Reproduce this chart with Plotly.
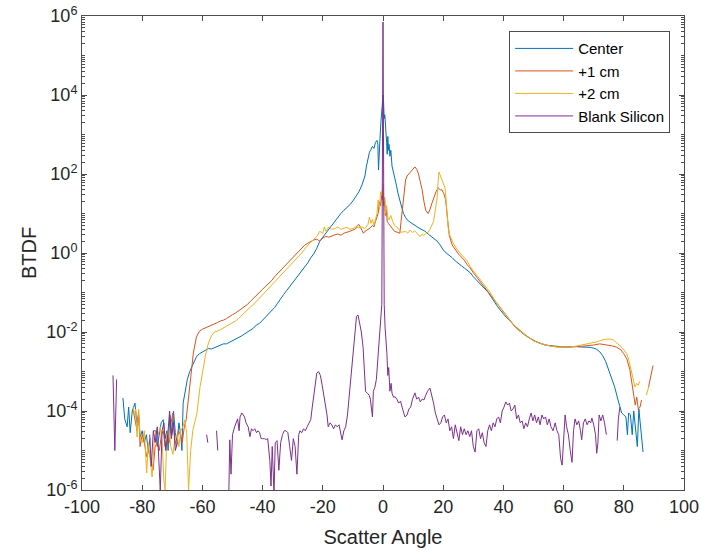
import plotly.graph_objects as go

# ---------------- data (BTDF given as log10 values) ----------------
center_angle = [-86.4, -85.8, -85.0, -84.5, -84.0, -83.3, -82.4, -81.8, -81.2, -80.7, -80.0, -79.3, -78.6, -78.0,
                -77.4, -76.8, -76.2, -75.6, -75.0, -74.3, -73.7, -73.0, -72.4, -71.8, -71.4, -70.8, -70.2, -69.6,
                -69.0, -68.4, -67.8, -67.2, -66.8, -66.4, -65.7, -65.0, -64.2, -63.5, -62.8, -62.0, -61.0, -60.0,
                -59.0, -58.0, -57.0, -56.0, -55.0, -54.0, -53.0, -52.0, -51.0, -50.0, -49.0, -48.0, -47.0, -46.0,
                -45.0, -44.0, -43.0, -42.0, -41.0, -40.0, -39.0, -38.0, -37.0, -36.0, -35.0, -34.0, -33.0, -32.0,
                -31.0, -30.0, -29.0, -28.0, -27.0, -26.0, -25.0, -24.0, -23.0, -22.0, -21.0, -20.0, -19.0, -18.0,
                -17.0, -16.0, -15.0, -14.0, -13.0, -12.0, -11.0, -10.0, -9.0, -8.0, -7.0, -6.0, -5.5, -5.0, -4.5,
                -4.0, -3.5, -3.0, -2.5, -2.0, -1.7, -1.5, -1.3, -1.0, -0.7, -0.4, -0.2, 0.0, 0.2, 0.4, 0.6, 0.8,
                1.0, 1.2, 1.4, 1.6, 1.8, 2.0, 2.3, 2.6, 3.0, 3.5, 4.0, 4.5, 5.0, 5.6, 6.2, 6.8, 7.5, 8.0, 9.0,
                10.0, 11.0, 12.0, 13.0, 14.0, 15.0, 16.0, 17.0, 18.0, 19.0, 20.0, 21.0, 22.0, 23.0, 24.0, 25.0,
                26.0, 27.0, 28.0, 29.0, 30.0, 31.0, 32.0, 33.0, 34.0, 35.0, 36.0, 37.0, 38.0, 39.0, 40.0, 41.0,
                42.0, 43.0, 44.0, 45.0, 46.0, 47.0, 48.0, 49.0, 50.0, 51.0, 52.0, 53.0, 54.0, 55.0, 56.0, 57.0,
                58.0, 59.0, 60.0, 62.0, 64.0, 66.0, 68.0, 69.0, 70.0, 71.0, 72.0, 73.0, 74.0, 75.0, 76.0, 77.0,
                78.0, 78.7, 79.3, 80.0, 80.7, 81.2, 81.6, 82.2, 82.8, 83.3, 84.0, 84.5, 85.0, 85.5, 86.0, 86.4]
center_log10 = [-3.67, -4.2, -4.4, -3.9, -4.55, -4.0, -3.8, -4.3, -4.1, -4.66, -4.5, -4.8, -4.6, -5.0,
                -4.7, None, -4.5, -4.5, -4.9, -4.6, -4.3, -4.22, -4.7, -4.5, -5.0, -4.1, -4.6, -4.0,
                -4.55, -4.8, -4.3, -4.6, -5.0, -3.8, -3.45, -3.2, -3.0, -2.88, -2.75, -2.63, -2.55, -2.5,
                -2.46, -2.42, -2.43, -2.4, -2.36, -2.35, -2.3, -2.3, -2.26, -2.22, -2.2, -2.14, -2.1, -2.05,
                -2.0, -1.95, -1.9, -1.82, -1.78, -1.7, -1.62, -1.55, -1.45, -1.38, -1.27, -1.15, -1.05, -0.95,
                -0.85, -0.75, -0.65, -0.55, -0.45, -0.35, -0.25, -0.12, -0.02, 0.12, 0.3, 0.4, 0.5, 0.62,
                0.72, 0.82, 0.92, 1.0, 1.08, 1.15, 1.22, 1.32, 1.42, 1.55, 1.72, 1.95, 2.2, 2.4, 2.55,
                2.62, 2.7, 2.65, 2.8, 2.85, 2.75, 2.1, 2.6, 2.9, 3.3, 3.55, 3.75, 4.0, 3.8, 3.4, 3.5, 3.1,
                3.2, 2.8, 2.5, 2.95, 2.6, 2.75, 2.45, 2.6, 2.2, 2.05, 1.9, 1.7, 1.5, 1.34, 1.15, 1.0, 0.9, 0.84, 0.78,
                0.72, 0.68, 0.63, 0.6, 0.55, 0.48, 0.42, 0.38, 0.3, 0.2, 0.08, 0.0, -0.05, -0.12, -0.2, -0.25,
                -0.32, -0.38, -0.45, -0.5, -0.6, -0.68, -0.75, -0.82, -0.92, -1.0, -1.12, -1.25, -1.35, -1.45, -1.55, -1.63,
                -1.7, -1.8, -1.88, -1.95, -2.02, -2.07, -2.12, -2.17, -2.22, -2.25, -2.28, -2.31, -2.33, -2.34, -2.35, -2.36,
                -2.37, -2.37, -2.38, -2.38, -2.37, -2.38, -2.38, -2.39, -2.41, -2.44, -2.5, -2.6, -2.75, -2.95, -3.15, -3.4,
                -3.7, -3.9, -4.05, -4.1, -4.15, -4.6, -4.05, -4.1, -4.6, -4.0, -4.45, -4.9, -3.95, -4.3, -4.6, -5.04]

plus1_angle = [-83.0, -82.4, -81.7, -81.2, -80.7, -80.0, -79.3, -78.5, -77.8, -77.0, -76.4, -75.7, -75.0, -74.3,
               -73.6, -73.0, -72.4, -71.6, -71.0, -70.4, -69.8, -69.2, -68.6, -68.0, -67.3, -66.7, -66.0, -65.4,
               -64.8, -64.0, -63.0, -62.0, -61.0, -60.0, -59.0, -58.0, -57.0, -56.0, -55.0, -54.0, -53.0, -52.0,
               -51.0, -50.0, -49.0, -48.0, -47.0, -46.0, -45.0, -44.0, -43.0, -42.0, -41.0, -40.0, -39.0, -38.0,
               -37.0, -36.0, -35.0, -34.0, -33.0, -32.0, -31.0, -30.0, -29.0, -28.0, -27.0, -26.0, -25.0, -24.0,
               -23.0, -22.0, -21.0, -20.0, -19.0, -18.0, -17.0, -16.0, -15.0, -14.0, -13.0, -12.0, -11.0, -10.0,
               -9.0, -8.5, -8.0, -7.5, -7.0, -6.5, -6.0, -5.0, -4.3, -3.5, -3.0, -2.5, -2.0, -1.6, -1.2, -0.8,
               -0.5, -0.2, 0.0, 0.2, 0.5, 0.8, 1.1, 1.4, 1.8, 2.3, 3.0, 3.8, 4.6, 5.2, 5.6, 6.0, 6.5, 7.0, 7.5,
               8.0, 9.0, 10.0, 10.6, 11.2, 11.8, 12.4, 13.0, 13.6, 14.2, 15.0, 15.6, 16.3, 17.0, 17.6, 18.3, 19.0,
               19.6, 20.2, 20.8, 21.4, 22.0, 23.0, 24.0, 25.0, 26.0, 27.0, 28.0, 29.0, 30.0, 31.0, 32.0, 33.0,
               34.0, 35.0, 36.0, 37.0, 38.0, 39.0, 40.0, 41.0, 42.0, 43.0, 44.0, 45.0, 46.0, 47.0, 48.0, 49.0,
               50.0, 52.0, 54.0, 56.0, 58.0, 60.0, 62.0, 64.0, 66.0, 68.0, 70.0, 72.0, 74.0, 76.0, 77.5, 79.0,
               80.0, 81.0, 82.0, 82.7, 83.3, 83.8, 84.3, 84.8, 85.4, 85.9, 87.0, 88.2, 88.7, 89.2, 89.7]
plus1_log10 = [-3.97, -4.2, -4.5, -4.0, -4.9, -4.6, -4.8, -5.16, -5.0, -5.3, -5.5, -4.9, -4.8, -5.0,
               -4.6, -4.5, -4.9, -4.6, -4.8, -4.3, -4.05, -4.7, -4.9, -4.5, -4.6, -4.8, -4.4, -4.22,
               -3.8, -3.2, -2.53, -2.13, -1.98, -1.93, -1.9, -1.87, -1.84, -1.8, -1.76, -1.72, -1.7, -1.66,
               -1.6, -1.56, -1.52, -1.47, -1.42, -1.36, -1.3, -1.22, -1.15, -1.08, -1.0, -0.92, -0.84, -0.78,
               -0.7, -0.6, -0.52, -0.45, -0.36, -0.28, -0.2, -0.12, -0.05, 0.05, 0.12, 0.2, 0.25, 0.3,
               0.33, 0.35, 0.3, 0.38, 0.42, 0.4, 0.44, 0.46, 0.48, 0.45, 0.5, 0.52, 0.55, 0.58,
               0.62, 0.7, 0.72, 0.65, 0.55, 0.5, 0.55, 0.6, 0.63, 0.7, 0.66, 0.8, 0.9, 1.0, 1.3, 1.2,
               1.45, 1.35, 1.6, 1.2, 1.4, 0.95, 1.1, 0.8, 0.75, 0.7, 0.6, 0.55, 0.53, 0.5, 0.5, 0.8, 1.2, 1.6, 1.85,
               1.95, 2.05, 2.15, 2.18, 2.12, 2.0, 1.8, 1.6, 1.3, 1.08, 1.0, 1.1, 1.27, 1.45, 1.55, 1.65, 1.6,
               1.6, 1.5, 1.35, 0.8, 0.45, 0.2, 0.08, -0.02, -0.1, -0.18, -0.3, -0.38, -0.5, -0.6, -0.7, -0.8,
               -0.88, -0.98, -1.08, -1.2, -1.3, -1.4, -1.5, -1.6, -1.7, -1.78, -1.86, -1.93, -2.0, -2.06, -2.12, -2.17,
               -2.22, -2.28, -2.33, -2.36, -2.38, -2.38, -2.38, -2.37, -2.36, -2.35, -2.33, -2.3, -2.32, -2.35, -2.38, -2.45,
               -2.55, -2.68, -2.95, -3.3, -3.6, -3.85, -3.65, -3.95, -3.9, -3.72, None, -3.4, -3.2, -3.05, -2.85]

plus2_angle = [-83.0, -82.6, -82.2, -81.7, -81.2, -80.7, -80.0, -79.3, -78.5, -78.0, -77.4, -76.7, -76.0, -75.4,
               -74.7, -74.0, -73.3, -72.8, -72.4, -71.8, -71.2, -70.5, -69.8, -69.1, -68.4, -67.8, -67.2, -66.5,
               -65.8, -65.2, -64.6, -63.9, -63.2, -62.4, -61.8, -60.8, -59.8, -59.0, -58.0, -57.0, -56.0, -55.0,
               -54.0, -53.0, -52.0, -51.0, -50.0, -49.0, -48.0, -47.0, -46.0, -45.0, -44.0, -43.0, -42.0, -41.0,
               -40.0, -39.0, -38.0, -37.0, -36.0, -35.0, -34.0, -33.0, -32.0, -31.0, -30.0, -29.0, -28.0, -27.0,
               -26.0, -25.0, -24.0, -23.0, -22.0, -21.0, -20.0, -19.5, -19.0, -18.0, -17.0, -16.0, -15.0, -14.0,
               -13.0, -12.0, -11.0, -10.0, -9.0, -8.0, -7.0, -6.0, -5.0, -4.5, -4.0, -3.5, -3.0, -2.5, -2.0,
               -1.6, -1.2, -0.8, -0.4, 0.0, 0.3, 0.6, 0.9, 1.2, 1.6, 2.0, 2.6, 3.2, 3.8, 4.6, 5.4, 6.0, 6.6,
               7.5, 8.2, 9.0, 9.8, 10.5, 11.3, 12.0, 12.3, 13.0, 13.6, 14.3, 15.0, 15.6, 16.3, 16.8, 17.4, 18.0,
               18.3, 18.6, 19.1, 19.6, 20.2, 20.6, 21.0, 21.6, 22.2, 23.3, 24.5, 25.5, 26.5, 28.0, 29.0, 30.0,
               31.0, 32.0, 33.0, 34.0, 35.5, 37.0, 38.0, 39.0, 40.0, 41.0, 42.0, 43.0, 44.0, 45.0, 46.5, 48.0,
               50.0, 52.0, 54.0, 56.0, 58.0, 60.0, 62.0, 64.0, 66.0, 68.0, 70.0, 71.0, 72.0, 73.0, 74.0, 75.5,
               76.5, 77.7, 78.5, 79.5, 80.3, 81.0, 81.8, 82.7, 83.2, 83.7, 84.3, 84.8, 85.3, 86.5, 87.5, 88.0, 88.4]
plus2_log10 = [-3.9, -4.1, -3.95, -4.66, -3.95, -4.66, -4.8, -4.5, -5.57, -4.8, -5.2, -5.67, -4.7, -4.5,
               -4.6, -4.4, -4.9, -5.75, -6.0, -4.6, -4.45, -4.9, -5.1, -4.7, -4.6, -4.9, -4.5, -4.4,
               -4.22, -4.6, -6.0, -5.0, -4.5, -4.2, -4.05, -3.4, -2.96, -2.6, -2.28, -2.1, -2.0, -1.98,
               -1.94, -1.9, -1.86, -1.82, -1.78, -1.72, -1.66, -1.58, -1.5, -1.42, -1.36, -1.3, -1.22, -1.14,
               -1.06, -0.98, -0.9, -0.82, -0.74, -0.66, -0.58, -0.5, -0.42, -0.34, -0.26, -0.18, -0.1, 0.0,
               0.1, 0.2, 0.28, 0.34, 0.42, 0.55, 0.5, 0.66, 0.55, 0.66, 0.6, 0.62, 0.66, 0.6,
               0.62, 0.65, 0.6, 0.62, 0.66, 0.64, 0.66, 0.62, 0.72, 0.91, 0.75, 0.85, 0.7, 0.9, 1.0,
               1.34, 1.1, 1.55, 1.45, 1.75, 1.3, 1.4, 1.0, 1.2, 0.9, 0.84, 0.95, 0.8, 0.7, 0.66, 0.6, 0.53, 0.53,
               0.55, 0.5, 0.58, 0.52, 0.56, 0.5, 0.45, 0.41, 0.48, 0.44, 0.5, 0.52, 0.6, 0.7, 0.8, 1.1, 1.4,
               1.8, 2.05, 1.95, 1.85, 1.75, 1.65, 1.3, 0.66, 0.45, 0.25, 0.1, 0.0, -0.08, -0.2, -0.35, -0.45,
               -0.55, -0.65, -0.75, -0.85, -0.99, -1.18, -1.3, -1.4, -1.5, -1.6, -1.7, -1.8, -1.88, -1.95, -2.03, -2.12,
               -2.22, -2.28, -2.33, -2.36, -2.38, -2.38, -2.38, -2.36, -2.33, -2.3, -2.26, -2.25, -2.22, -2.2, -2.18, -2.18,
               -2.2, -2.28, -2.33, -2.4, -2.48, -2.55, -2.75, -3.04, -3.25, -3.39, -3.3, -3.35, -3.25, None, -3.6, -3.47, -3.35]

blank_angle = [-89.7, -89.1, -88.5, -83.0, -77.5, -77.0, -76.3, -75.7, -75.0, -74.5, -74.0, -73.4, -72.8, -72.2,
               -71.5, -70.9, -70.3, -69.6, -69.0, -68.3, -63.0, -58.6, -58.2, -57.0, -55.3, -54.9, -53.0, -51.2,
               -50.9, -50.5, -50.0, -49.3, -48.8, -48.3, -47.8, -47.5, -46.9, -46.5, -46.0, -45.5, -44.8, -44.2,
               -43.7, -43.2, -42.6, -42.0, -41.5, -41.0, -40.5, -40.0, -39.4, -38.8, -38.3, -37.6, -37.2, -36.8,
               -36.2, -35.8, -35.2, -34.6, -34.0, -33.4, -32.8, -32.2, -31.6, -31.0, -30.4, -29.8, -29.2, -28.6,
               -28.0, -27.6, -27.0, -26.4, -25.8, -25.2, -24.6, -24.0, -23.5, -23.0, -22.5, -22.0, -21.4, -20.8,
               -20.2, -19.6, -19.0, -18.6, -18.2, -17.6, -17.0, -16.4, -15.8, -15.2, -14.6, -14.0, -13.6, -13.0,
               -12.4, -11.8, -11.2, -10.6, -10.0, -9.4, -8.8, -8.3, -7.8, -7.2, -6.6, -6.2, -5.8, -5.2, -4.6,
               -4.2, -3.8, -3.5, -3.2, -2.7, -2.2, -1.7, -1.2, -0.8, -0.4, 0.0, 0.4, 0.7, 1.0, 1.3, 1.6, 1.9,
               2.3, 2.7, 3.0, 3.5, 4.0, 4.6, 5.2, 5.8, 6.6, 7.3, 8.0, 8.6, 9.2, 9.8, 10.6, 11.2, 11.8, 12.4,
               13.0, 13.6, 14.2, 14.8, 15.6, 16.2, 16.8, 17.4, 18.0, 18.6, 19.2, 19.8, 20.4, 21.0, 21.6, 22.2,
               22.8, 23.4, 24.0, 24.6, 25.2, 25.8, 26.4, 27.0, 27.6, 28.2, 28.8, 29.4, 30.0, 30.6, 31.2, 31.8,
               32.4, 33.0, 33.6, 34.2, 34.8, 35.4, 36.0, 36.6, 37.2, 37.8, 38.4, 39.0, 39.6, 40.2, 40.8, 41.4,
               42.0, 42.6, 43.2, 43.8, 44.4, 45.0, 45.6, 46.2, 46.8, 47.4, 48.0, 48.6, 49.2, 49.8, 50.4, 51.0,
               51.6, 52.2, 52.8, 53.4, 54.0, 54.6, 55.2, 55.8, 56.5, 57.2, 57.8, 58.4, 59.0, 59.5, 60.0, 60.5,
               61.0, 61.6, 62.2, 62.8, 63.3, 63.8, 64.4, 65.0, 65.6, 66.0, 66.6, 67.2, 67.8, 68.4, 69.0, 69.4,
               70.0, 70.6, 71.0, 71.4, 71.8, 72.4, 73.0, 73.6, 74.2, 76.0, 77.8, 78.2, 78.7]
blank_log10 = [-3.1, -5.0, -3.2, None, -4.6, -5.4, -4.5, -4.8, -4.4, -5.3, -6.0, -4.5, -4.3, -5.0,
               -4.6, -4.0, -4.7, -4.3, -5.0, -4.8, None, -4.6, -4.8, None, -4.5, -5.0, None, -6.0,
               -4.73, -5.6, -4.6, -4.4, -4.3, -4.2, -4.5, -4.15, -4.05, -4.1, -4.15, -4.3, -4.4, -4.65,
               -4.45, -4.5, -4.45, -4.55, -4.5, -4.55, -4.7, -4.7, -4.7, -4.72, -4.7, -5.25, -5.9, -4.9,
               -6.1, -4.8, -4.75, -5.5, -4.8, -4.6, -4.5, -4.5, -4.55, -4.9, -5.25, -4.7, -4.9, -5.6,
               -4.6, -4.5, -4.55, -4.45, -4.5, -4.4, -4.3, -4.22, -3.9, -3.6, -3.25, -3.04, -3.0, -3.1,
               -3.35, -3.6, -3.85, -4.1, -4.4, -4.3, -4.35, -4.45, -4.35, -4.4, -4.35, -4.6, -4.73, -4.5,
               -4.4, -4.1, -3.6, -3.0, -2.5, -1.9, -1.6, -1.57, -1.75, -2.0, -2.4, -3.0, -3.5, -3.55, -3.6,
               -3.7, -3.9, -4.15, -3.5, -3.4, -3.2, -2.7, -2.1, -1.9, -1.3, 5.85, -1.3, -1.9, -2.2, -2.55, -3.1, -2.9,
               -3.5, -3.3, -3.55, -3.65, -3.64, -3.7, -3.8, -3.75, -3.97, -4.15, -4.1, -3.95, -3.9, -3.7, -3.54, -3.7, -3.65, -3.77,
               -3.7, -3.72, -3.6, -3.5, -3.42, -3.6, -3.8, -4.05, -4.2, -4.35, -4.3, -4.15, -4.1, -4.3, -4.2, -4.5,
               -4.4, -4.7, -4.35, -4.55, -4.75, -4.4, -4.6, -4.45, -4.6, -4.5, -4.65, -4.5, -4.9, -5.04, -4.5, -4.45,
               -4.7, -4.55, -4.8, -4.9, -4.5, -4.35, -4.5, -4.3, -4.4, -4.2, -4.15, -4.3, -4.0, -3.9, -3.77, -3.85,
               -3.8, -4.0, -3.95, -3.85, -4.2, -4.1, -4.3, -4.25, -4.45, -4.3, -4.4, -4.2, -4.05, -4.25, -4.1, -4.3,
               -4.15, -4.35, -4.1, -4.2, -4.15, -4.35, -4.2, -4.4, -4.5, -4.3, -4.5, -4.6, -5.2, -5.37, -4.6, -4.1,
               -4.4, -4.6, -5.0, -5.3, -4.5, -4.2, -4.35, -4.25, -4.5, -4.73, -4.3, -4.2, -4.35, -4.25, -4.3, -4.18,
               -4.35, -4.6, -5.07, -4.8, -4.1, -4.25, -4.1, -4.3, -4.6, None, -4.75, -4.2, -3.9]

series_names = ["Center", "+1 cm", "+2 cm", "Blank Silicon"]
series_colors = ["#0072BD", "#D95319", "#EDB120", "#7E2F8E"]

x_tick_values = [-100, -80, -60, -40, -20, 0, 20, 40, 60, 80, 100]
x_tick_labels = ["-100", "-80", "-60", "-40", "-20", "0", "20", "40", "60", "80", "100"]
y_tick_exponents = [-6, -4, -2, 0, 2, 4, 6]


def to_btdf(log_values):
    return [None if v is None else 10 ** v for v in log_values]


fig = go.Figure()
all_series = [
    (center_angle, center_log10),
    (plus1_angle, plus1_log10),
    (plus2_angle, plus2_log10),
    (blank_angle, blank_log10),
]
for (ang, lv), name, color in zip(all_series, series_names, series_colors):
    fig.add_trace(go.Scatter(x=ang, y=to_btdf(lv), mode="lines", name=name,
                             line=dict(color=color, width=1), connectgaps=False))

axis_color = "#4d4d4d"
text_color = "#262626"
font_family = "Liberation Sans, Arial, Helvetica, sans-serif"

minor_vals = [m * 10.0 ** e for e in range(-6, 6) for m in range(2, 10)] + [10.0 ** e for e in range(-5, 6, 2)]

fig.update_layout(
    width=701, height=550,
    margin=dict(l=82, r=17, t=16, b=60),
    paper_bgcolor="white", plot_bgcolor="white",
    font=dict(family=font_family, color=text_color, size=18),
    showlegend=True,
    legend=dict(x=0.977, y=0.968, xanchor="right", yanchor="top",
                bgcolor="white", bordercolor=axis_color, borderwidth=1,
                font=dict(size=15, color="#000000"), tracegroupgap=0,
                itemwidth=58),
    xaxis=dict(range=[-100, 100], tickmode="array", tickvals=x_tick_values, ticktext=x_tick_labels,
               ticks="inside", ticklen=5, tickcolor=axis_color, showgrid=False, zeroline=False,
               showline=True, linecolor=axis_color, linewidth=1, mirror="ticks", automargin=False,
               ticklabeloverflow="allow",
               tickfont=dict(size=18), title=dict(text="Scatter Angle", font=dict(size=20), standoff=14)),
    yaxis=dict(type="log", range=[-6, 6], tickmode="array",
               tickvals=[10.0 ** e for e in y_tick_exponents],
               ticktext=["10<sup>%d</sup>" % e for e in y_tick_exponents],
               ticks="inside", ticklen=5, tickcolor=axis_color, showgrid=False, zeroline=False,
               showline=True, linecolor=axis_color, linewidth=1, mirror="ticks", automargin=False,
               ticklabeloverflow="allow",
               minor=dict(tickmode="array", tickvals=minor_vals, ticks="inside", ticklen=3,
                          tickcolor=axis_color, showgrid=False),
               tickfont=dict(size=18), title=dict(text="BTDF", font=dict(size=20), standoff=4)),
)

# remove the browser's default 8px page margin so the 701x550 figure fills the window exactly
fig.write_html("out.html", config={"displayModeBar": False},
               post_script="document.body.style.margin='0';document.body.style.overflow='hidden';")
